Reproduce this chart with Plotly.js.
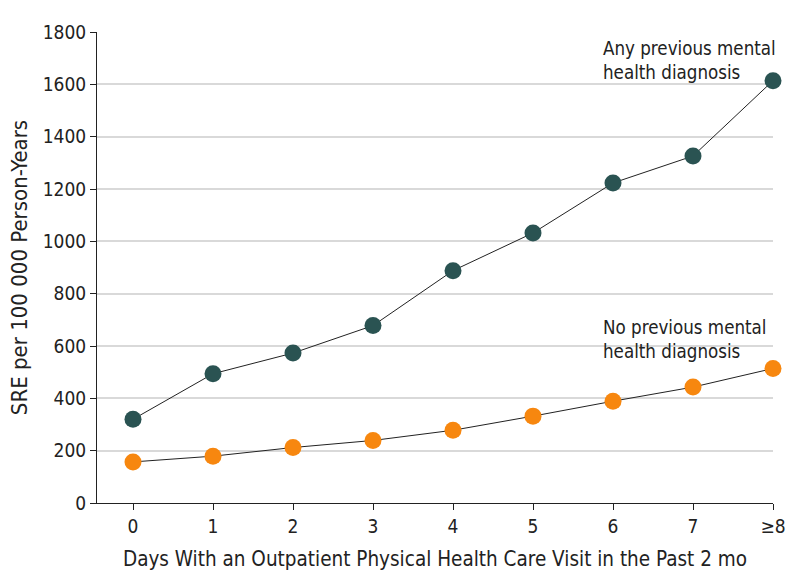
<!DOCTYPE html>
<html>
<head>
<meta charset="utf-8">
<script src="https://cdn.plot.ly/plotly-3.0.1.min.js"></script>
<style>body{margin:0;background:#fff}</style>
</head>
<body>
<div id="myDiv" style="width:794px;height:588px"></div>
<script>
var days = [0, 1, 2, 3, 4, 5, 6, 7, 8];
var dayLabels = ["0", "1", "2", "3", "4", "5", "6", "7", "≥8"];
var anyPrev = [320, 494, 573, 678, 888, 1032, 1223, 1326, 1614];
var noPrev = [157, 179, 212, 239, 278, 332, 389, 443, 514];

var fam = "DejaVu Sans Condensed, sans-serif";
var tickFont = {family: fam, size: 19, color: "#222"};

var trace1 = {
  x: days,
  y: anyPrev,
  mode: "lines+markers",
  name: "Any previous mental health diagnosis",
  line: {color: "#222", width: 1},
  marker: {color: "#2a5352", size: 17},
  cliponaxis: false
};

var trace2 = {
  x: days,
  y: noPrev,
  mode: "lines+markers",
  name: "No previous mental health diagnosis",
  line: {color: "#222", width: 1},
  marker: {color: "#f7870f", size: 17},
  cliponaxis: false
};

var data = [trace1, trace2];

var layout = {
  width: 794,
  height: 588,
  margin: {l: 97, r: 21, t: 32, b: 85},
  showlegend: false,
  paper_bgcolor: "#fff",
  plot_bgcolor: "#fff",
  font: tickFont,
  xaxis: {
    range: [-0.45, 8],
    tickvals: days,
    ticktext: dayLabels,
    showgrid: false,
    zeroline: false,
    showline: true,
    linecolor: "#222",
    linewidth: 1,
    ticks: "outside",
    ticklen: 6,
    tickcolor: "#222",
    tickfont: tickFont,
    title: {text: "Days With an Outpatient Physical Health Care Visit in the Past 2 mo", font: {family: fam, size: 20.5, color: "#222"}, standoff: 15}
  },
  yaxis: {
    range: [0, 1800],
    dtick: 200,
    showgrid: true,
    gridcolor: "#d9d9d9",
    gridwidth: 2,
    zeroline: false,
    showline: true,
    linecolor: "#222",
    linewidth: 1,
    ticks: "outside",
    ticklen: 6,
    tickcolor: "#222",
    tickfont: tickFont,
    title: {text: "SRE per 100 000 Person-Years", font: {family: fam, size: 22, color: "#222"}, standoff: 9}
  },
  annotations: [
    {
      x: 5.85, y: 1690, xref: "x", yref: "y",
      text: "Any previous mental<br>health diagnosis",
      showarrow: false, xanchor: "left", yanchor: "middle", align: "left",
      font: {family: fam, size: 18.6, color: "#222"}
    },
    {
      x: 5.85, y: 625, xref: "x", yref: "y",
      text: "No previous mental<br>health diagnosis",
      showarrow: false, xanchor: "left", yanchor: "middle", align: "left",
      font: {family: fam, size: 18.6, color: "#222"}
    }
  ]
};

Plotly.newPlot("myDiv", data, layout, {staticPlot: true});
</script>
</body>
</html>
